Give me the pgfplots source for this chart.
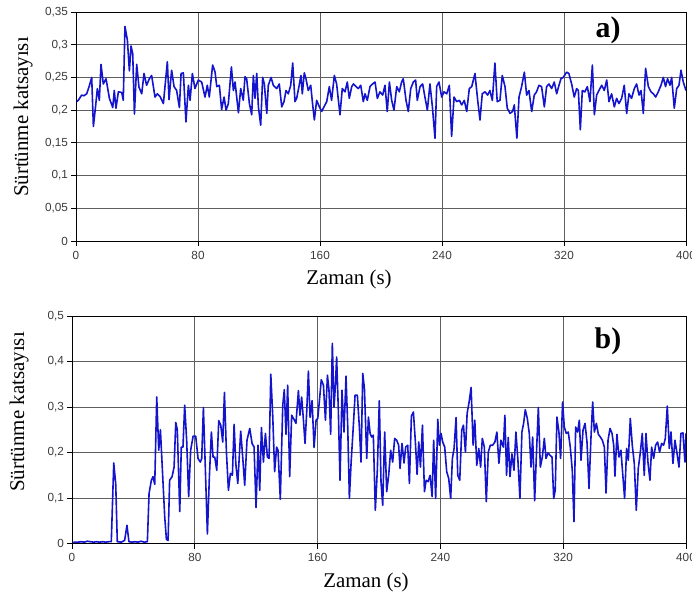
\documentclass[border=0pt]{standalone}
\usepackage{fontspec}
\setmainfont{Liberation Sans}
\newfontfamily\timesfont{Liberation Serif}
\usepackage{pgfplots}
\pgfplotsset{compat=1.18}
\definecolor{lineblue}{RGB}{20,20,205}
\definecolor{gridc}{RGB}{95,95,95}
\definecolor{tickc}{RGB}{60,60,60}
\pgfplotsset{mystyle/.style={
  scale only axis,
  xmin=0, xmax=400,
  xtick={0,80,160,240,320,400},
  xticklabels={0,80,160,240,320,400},
  grid=major,
  major grid style={draw=gridc, line width=0.9bp},
  axis line style={draw=black, line width=0.9bp},
  tick align=outside,
  xtick pos=left, ytick pos=left,
  major tick length=5bp,
  tick style={draw=black, line width=0.9bp},
  ticklabel style={font=\fontsize{11.8}{13}\selectfont, text=tickc},
  xticklabel style={yshift=-1.5bp},
  yticklabel style={xshift=0.5bp},
  scaled ticks=false,
}}
\pgfplotstableread{
t v
0.5 0.213
1.5 0.215
3.7 0.223
5.2 0.222
7.0 0.225
8.6 0.236
10.3 0.25
11.4 0.175
12.8 0.205
14.0 0.233
15.3 0.215
16.4 0.27
17.9 0.24
19.7 0.248
21.9 0.218
24.1 0.204
25.1 0.23
26.2 0.203
27.8 0.228
30.0 0.227
31.0 0.215
32.1 0.328
33.7 0.307
35.0 0.26
36.1 0.298
37.2 0.286
38.3 0.194
39.8 0.27
41.3 0.235
43.1 0.225
44.6 0.256
46.3 0.238
48.1 0.248
49.6 0.253
51.8 0.22
53.3 0.225
55.1 0.221
57.3 0.21
59.9 0.274
61.0 0.216
62.7 0.261
64.3 0.236
66.0 0.23
67.8 0.204
68.9 0.256
70.4 0.257
72.1 0.182
73.7 0.238
74.8 0.215
76.3 0.256
78.0 0.233
80.2 0.246
82.4 0.243
84.6 0.22
86.1 0.238
87.4 0.22
89.6 0.269
91.2 0.258
92.3 0.236
94.0 0.238
95.5 0.201
97.1 0.22
98.4 0.2
99.9 0.21
101.9 0.266
103.2 0.23
104.3 0.243
106.5 0.196
108.0 0.233
109.7 0.215
110.8 0.251
111.9 0.248
113.7 0.21
115.2 0.193
116.3 0.253
117.4 0.218
118.5 0.256
119.6 0.205
121.1 0.177
122.4 0.25
123.5 0.24
125.1 0.195
126.1 0.238
127.9 0.25
129.4 0.238
131.6 0.233
133.3 0.24
134.9 0.205
136.4 0.213
137.7 0.23
139.2 0.225
140.8 0.238
142.1 0.272
143.6 0.213
144.7 0.218
146.2 0.236
147.5 0.253
148.4 0.225
149.7 0.257
150.8 0.248
152.3 0.23
153.9 0.238
155.2 0.208
156.3 0.185
157.8 0.215
159.6 0.205
161.1 0.198
162.6 0.205
164.4 0.213
166.1 0.236
167.6 0.215
169.4 0.253
170.9 0.24
173.1 0.193
174.6 0.233
176.4 0.228
177.9 0.243
179.2 0.218
180.8 0.236
181.9 0.24
183.6 0.236
185.1 0.233
186.7 0.238
188.4 0.213
189.5 0.225
191.0 0.215
192.8 0.236
194.5 0.24
196.1 0.243
197.6 0.218
199.3 0.228
201.1 0.223
202.6 0.238
204.1 0.198
205.5 0.243
207.0 0.215
208.5 0.2
210.3 0.236
212.0 0.228
213.5 0.243
214.6 0.248
216.4 0.215
217.9 0.198
219.5 0.233
221.2 0.243
222.7 0.246
223.8 0.215
225.6 0.236
227.3 0.24
228.8 0.22
230.4 0.2
232.1 0.24
233.7 0.205
235.4 0.157
236.5 0.236
238.0 0.243
239.8 0.22
241.3 0.228
243.1 0.225
244.8 0.238
246.3 0.16
247.9 0.22
249.6 0.213
251.4 0.215
252.9 0.208
254.6 0.215
256.2 0.198
257.9 0.233
259.5 0.236
261.6 0.256
263.4 0.215
264.9 0.185
266.4 0.225
268.2 0.228
269.9 0.223
271.4 0.23
273.0 0.215
274.7 0.272
276.2 0.213
278.0 0.215
279.5 0.253
281.3 0.236
282.8 0.203
284.6 0.195
286.3 0.198
287.4 0.208
289.1 0.157
290.5 0.22
292.2 0.236
294.0 0.258
295.5 0.223
297.0 0.23
298.8 0.198
300.5 0.223
302.0 0.228
303.6 0.238
305.3 0.236
307.1 0.205
308.6 0.236
310.1 0.24
311.9 0.233
313.6 0.243
315.2 0.225
316.7 0.238
318.0 0.248
319.5 0.25
321.7 0.258
323.2 0.256
325.0 0.24
326.7 0.22
328.3 0.233
329.4 0.23
330.7 0.17
332.0 0.23
333.7 0.228
335.3 0.236
337.0 0.213
338.6 0.269
339.9 0.193
341.4 0.223
342.9 0.23
344.7 0.238
346.4 0.23
348.0 0.246
349.5 0.213
351.2 0.225
353.0 0.205
354.5 0.218
356.0 0.21
357.8 0.218
359.5 0.238
361.1 0.195
362.6 0.225
364.3 0.218
366.1 0.233
367.6 0.24
369.2 0.223
370.5 0.23
372.0 0.195
373.5 0.264
375.3 0.236
377.0 0.228
378.6 0.225
380.1 0.22
381.8 0.228
383.6 0.238
385.1 0.25
386.6 0.236
387.9 0.248
389.5 0.238
390.6 0.25
392.3 0.203
393.9 0.233
395.4 0.238
396.7 0.261
398.2 0.243
400.0 0.23
}\dataA
\pgfplotstableread{
t v
0.5 0.002
2 0.003
4 0.003
6 0.004
8 0.003
10 0.005
12 0.004
14 0.003
16 0.004
18 0.003
20 0.004
22 0.003
24 0.004
25.6 0.004
27.2 0.177
28.5 0.13
29.5 0.004
32.2 0.003
34.3 0.007
35.8 0.04
37.1 0.004
39 0.003
41 0.004
43 0.003
45 0.005
47 0.003
49.1 0.004
50.2 0.11
51.7 0.139
52.8 0.147
53.9 0.13
55.2 0.322
56.5 0.205
57.6 0.25
58.9 0.161
60.4 0.059
61.5 0.009
62.6 0.007
63.6 0.139
65.2 0.147
66.5 0.168
67.6 0.266
68.6 0.25
70.2 0.07
71.2 0.212
72.3 0.212
73.4 0.304
74.7 0.227
76.0 0.103
77.3 0.205
78.9 0.236
80.6 0.236
82.1 0.187
83.6 0.179
84.5 0.187
85.6 0.299
86.9 0.161
88.2 0.021
89.5 0.147
90.8 0.245
91.9 0.19
93.0 0.19
94.3 0.161
95.6 0.27
96.9 0.26
98.2 0.223
99.3 0.332
100.6 0.201
101.9 0.117
103.2 0.154
104.5 0.15
105.6 0.262
106.7 0.176
108.0 0.132
109.9 0.247
111.2 0.19
112.5 0.128
114.0 0.227
115.8 0.253
117.3 0.22
118.6 0.212
119.9 0.079
121.2 0.216
122.3 0.117
123.4 0.255
124.7 0.179
126.0 0.242
127.3 0.19
128.4 0.187
129.5 0.372
130.8 0.278
132.0 0.158
133.3 0.212
134.2 0.205
135.7 0.097
137.3 0.304
138.3 0.338
139.4 0.24
140.5 0.348
141.8 0.147
143.1 0.282
144.6 0.273
145.9 0.264
147.5 0.336
148.5 0.282
149.6 0.322
150.7 0.275
151.8 0.22
152.9 0.289
154.0 0.379
155.1 0.277
156.4 0.314
157.7 0.211
159.0 0.271
160.1 0.275
161.1 0.311
162.4 0.36
163.8 0.348
165.1 0.271
166.4 0.37
167.4 0.338
168.5 0.24
169.6 0.44
170.7 0.3
171.6 0.348
172.4 0.41
173.5 0.293
174.6 0.139
175.9 0.337
177.2 0.245
178.5 0.368
179.6 0.26
180.7 0.099
181.8 0.176
183.3 0.26
184.4 0.326
185.9 0.326
187.2 0.256
188.3 0.179
189.4 0.374
190.5 0.341
192.0 0.187
193.1 0.278
194.2 0.242
195.2 0.234
196.3 0.238
197.6 0.073
198.9 0.161
200.2 0.314
201.3 0.136
202.4 0.084
203.7 0.245
205.0 0.114
206.3 0.15
207.6 0.205
208.9 0.179
210.2 0.231
211.5 0.227
212.8 0.216
213.7 0.165
215.0 0.22
216.3 0.177
217.4 0.212
218.7 0.216
219.8 0.132
221.1 0.28
222.4 0.289
223.7 0.223
224.8 0.152
225.9 0.223
227.0 0.168
228.3 0.26
229.6 0.114
230.7 0.139
232.0 0.136
233.3 0.15
234.6 0.103
235.6 0.227
236.9 0.099
238.3 0.273
239.3 0.216
240.4 0.242
241.5 0.223
242.8 0.212
244.1 0.158
245.4 0.143
246.7 0.099
247.8 0.187
248.9 0.209
250.2 0.277
251.3 0.15
252.6 0.139
253.9 0.249
255.0 0.26
256.3 0.201
257.4 0.286
258.7 0.311
260.0 0.343
261.3 0.216
262.4 0.271
263.7 0.172
265.0 0.209
266.2 0.168
267.3 0.231
268.6 0.212
269.9 0.092
271.2 0.201
272.5 0.216
274.0 0.216
275.5 0.223
276.8 0.245
278.1 0.176
279.4 0.227
281.0 0.212
282.0 0.282
283.1 0.15
284.2 0.233
285.3 0.147
286.6 0.197
287.9 0.161
289.2 0.245
290.5 0.183
291.8 0.099
293.1 0.245
294.2 0.264
295.3 0.294
296.6 0.275
297.9 0.242
299.0 0.168
300.1 0.234
301.4 0.094
302.7 0.209
303.8 0.299
305.1 0.168
306.4 0.19
307.7 0.231
308.8 0.187
310.1 0.199
311.4 0.194
312.7 0.19
313.8 0.099
314.8 0.117
315.9 0.278
317.2 0.245
318.3 0.187
319.6 0.311
320.7 0.256
322.0 0.242
323.3 0.245
324.6 0.212
325.9 0.161
327.0 0.048
328.1 0.256
329.4 0.245
330.5 0.271
331.6 0.183
332.9 0.249
334.2 0.264
335.5 0.223
336.8 0.121
338.1 0.234
339.2 0.311
340.3 0.245
341.6 0.264
342.9 0.24
344.2 0.234
345.5 0.227
346.8 0.212
347.9 0.111
349.2 0.227
350.5 0.253
351.8 0.242
352.9 0.216
353.7 0.148
355.0 0.24
356.3 0.19
357.6 0.205
358.9 0.147
360.0 0.099
361.3 0.209
362.4 0.183
363.7 0.275
365.0 0.216
366.3 0.176
367.6 0.073
368.9 0.165
370.2 0.199
371.5 0.242
372.8 0.15
373.9 0.242
375.2 0.179
376.5 0.139
377.6 0.212
378.9 0.187
380.2 0.216
381.5 0.223
382.8 0.201
384.1 0.22
385.4 0.216
386.5 0.231
387.8 0.302
389.1 0.209
390.2 0.245
391.5 0.176
392.8 0.227
394.1 0.199
395.4 0.168
396.7 0.242
398.0 0.243
399.3 0.179
400.0 0.242
}\dataB
\begin{document}
\begin{tikzpicture}[x=1bp,y=1bp]
\begin{axis}[mystyle,
  at={(76bp,-241bp)}, anchor=south west,
  width=610bp, height=229bp,
  ymin=0, ymax=0.35,
  ytick={0,0.05,0.1,0.15,0.2,0.25,0.3,0.35},
  yticklabels={0,{0,05},{0,1},{0,15},{0,2},{0,25},{0,3},{0,35}},
]
\addplot[lineblue, line width=1.6bp, line join=round] table[x=t,y=v] {\dataA};
\end{axis}
\begin{axis}[mystyle,
  at={(72bp,-543.5bp)}, anchor=south west,
  width=614bp, height=227.5bp,
  ymin=0, ymax=0.5,
  ytick={0,0.1,0.2,0.3,0.4,0.5},
  yticklabels={0,{0,1},{0,2},{0,3},{0,4},{0,5}},
]
\addplot[lineblue, line width=1.6bp, line join=round] table[x=t,y=v] {\dataB};
\end{axis}
\node[rotate=90, inner sep=0pt, font=\timesfont\fontsize{21}{24}\selectfont] at (23,-117) {Sürtünme katsayısı};
\node[rotate=90, inner sep=0pt, font=\timesfont\fontsize{21}{24}\selectfont] at (19,-412) {Sürtünme katsayısı};
\node[inner sep=0pt, font=\timesfont\fontsize{21}{24}\selectfont] at (349,-279) {Zaman (s)};
\node[inner sep=0pt, font=\timesfont\fontsize{21}{24}\selectfont] at (366,-582) {Zaman (s)};
\node[inner sep=0pt, font=\timesfont\bfseries\fontsize{30}{34}\selectfont] at (608,-30) {a)};
\node[inner sep=0pt, font=\timesfont\bfseries\fontsize{30}{34}\selectfont] at (608,-341) {b)};
\pgfresetboundingbox
\path[use as bounding box] (0,0) rectangle (692,-597);
\end{tikzpicture}
\end{document}
